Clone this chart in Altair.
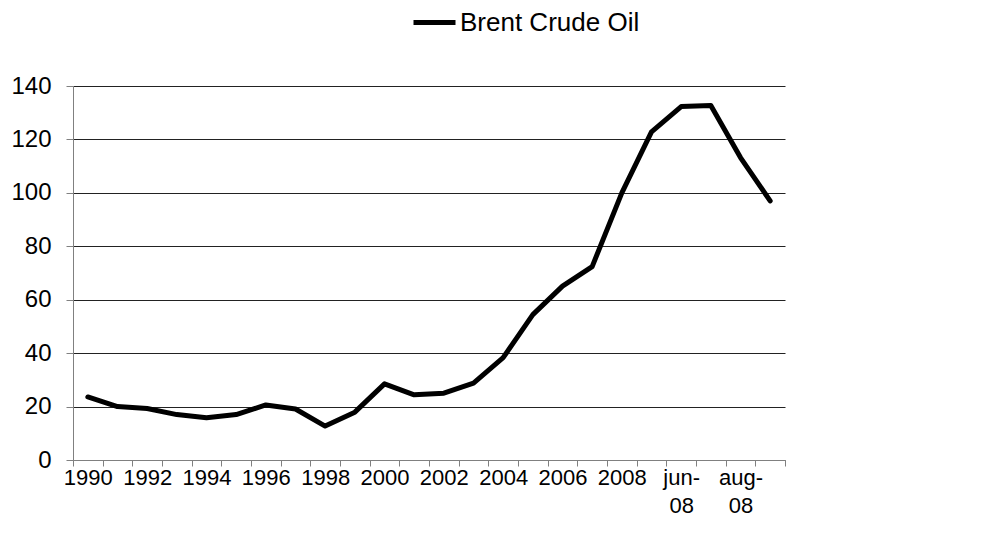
import altair as alt
import pandas as pd

categories = ["1990", "1991", "1992", "1993", "1994", "1995", "1996", "1997",
              "1998", "1999", "2000", "2001", "2002", "2003", "2004", "2005",
              "2006", "2007", "2008", "may-08", "jun-08", "jul-08", "aug-08", "sep-08"]
brent = [23.6, 20.0, 19.3, 17.0, 15.8, 17.0, 20.6, 19.1,
         12.7, 17.9, 28.5, 24.4, 25.0, 28.8, 38.3, 54.4,
         65.1, 72.4, 100.0, 122.8, 132.3, 132.7, 113.2, 97.0]
series_name = "Brent Crude Oil"
y_ticks = [0, 20, 40, 60, 80, 100, 120, 140]
shown = categories[::2]

df = pd.DataFrame({"cat": categories, "value": brent, "series": series_name})

shown_js = "[" + ",".join("'%s'" % s for s in shown) + "]"
label_expr = (
    "indexof(%s, datum.value) < 0 ? '' : "
    "(indexof(datum.value, '-') >= 0 ? [slice(datum.value, 0, 4), slice(datum.value, 4)] : datum.value)"
    % shown_js
)

FONT = "Liberation Sans"

chart = alt.Chart(df).mark_line(strokeWidth=5, strokeJoin="round", strokeCap="round").encode(
    x=alt.X("cat:N", sort=categories,
            scale=alt.Scale(paddingInner=0, paddingOuter=0),
            axis=alt.Axis(title=None, labelExpr=label_expr, labelAngle=0,
                          tickBand="extent", tickSize=6, tickColor="#808080",
                          domainColor="#808080", labelFontSize=22, labelFont=FONT,
                          labelColor="black", labelPadding=1, labelLineHeight=28,
                          labelOverlap=False, labelFlush=False)),
    y=alt.Y("value:Q", scale=alt.Scale(domain=[0, 140], nice=False),
            axis=alt.Axis(title=None, values=y_ticks, grid=True, gridColor="#222222",
                          gridWidth=1, tickSize=7, tickColor="#808080",
                          domainColor="#808080", labelFontSize=24, labelFont=FONT,
                          labelColor="black", labelPadding=15)),
    color=alt.Color("series:N", scale=alt.Scale(range=["black"]),
                    legend=alt.Legend(title=None, orient="none", legendX=338, legendY=-87,
                                      symbolType="stroke", symbolStrokeWidth=5,
                                      symbolSize=1764, labelFontSize=26, labelFont=FONT,
                                      labelColor="black", labelOffset=2, labelLimit=400)),
).properties(
    width=712, height=374,
    padding={"left": 65, "top": 78, "right": 189, "bottom": 70},
    autosize=alt.AutoSizeParams(type="none"),
    background="white",
).configure_view(strokeWidth=0, stroke=None)

chart.save("out.html", embed_options={"renderer": "svg", "actions": False})
